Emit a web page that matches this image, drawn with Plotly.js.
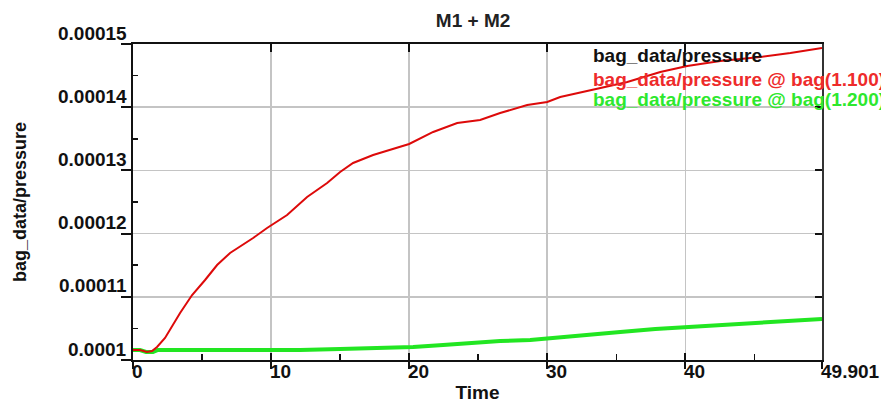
<!DOCTYPE html>
<html>
<head>
<meta charset="utf-8">
<script src="https://cdn.plot.ly/plotly-3.0.1.min.js"></script>
<style>
  html, body { margin: 0; padding: 0; background: #ffffff; }
  #chart { width: 881px; height: 403px; }
</style>
</head>
<body>
<div id="chart"></div>
<script>
// ---- data ----
const chartTitle = 'M1 + M2';
const xTitle = 'Time';
const yTitle = 'bag_data/pressure';
const seriesNames = ['bag_data/pressure', 'bag_data/pressure @ bag(1.100)', 'bag_data/pressure @ bag(1.200)'];

const xTickVals = [0, 10, 20, 30, 40, 49.901];
const xTickText = ['0', '10', '20', '30', '40', '49.901'];
const xMinorVals = [5, 15, 25, 35, 45];
const yTickVals = [0.0001, 0.00011, 0.00012, 0.00013, 0.00014, 0.00015];
const yTickText = ['0.0001', '0.00011', '0.00012', '0.00013', '0.00014', '0.00015'];
const yMinorVals = [0.000105, 0.000115, 0.000125, 0.000135, 0.000145];

const redX = [0, 0.51, 1.01, 1.38, 1.74, 2.32, 3.41, 4.28, 5.22, 6.09, 7.03, 8.70, 9.71, 11.16, 12.61, 14.06, 15.0, 15.94, 17.39, 18.62, 20.0, 21.74, 23.48, 25.14, 26.59, 28.55, 30.0, 30.94, 32.9, 34.35, 35.8, 38.19, 40.14, 42.54, 45.43, 47.61, 49.06, 49.901];
const redY = [1.0158e-4, 1.0158e-4, 1.0127e-4, 1.0142e-4, 1.0206e-4, 1.0348e-4, 1.0744e-4, 1.1028e-4, 1.1266e-4, 1.1503e-4, 1.1693e-4, 1.1930e-4, 1.2089e-4, 1.2294e-4, 1.2579e-4, 1.2801e-4, 1.2975e-4, 1.3117e-4, 1.3244e-4, 1.3323e-4, 1.3418e-4, 1.3608e-4, 1.3750e-4, 1.3797e-4, 1.3908e-4, 1.4035e-4, 1.4082e-4, 1.4161e-4, 1.4256e-4, 1.4335e-4, 1.4399e-4, 1.4557e-4, 1.4652e-4, 1.4731e-4, 1.4794e-4, 1.4858e-4, 1.4905e-4, 1.4937e-4];

const greenX = [0, 0.51, 0.94, 1.45, 1.81, 12.1, 15.0, 17.9, 20.29, 22.46, 24.28, 26.59, 28.77, 30.94, 33.12, 35.29, 37.83, 40.0, 42.54, 44.71, 46.88, 49.901];
const greenY = [1.0158e-4, 1.0158e-4, 1.0127e-4, 1.0127e-4, 1.0158e-4, 1.0158e-4, 1.0174e-4, 1.0190e-4, 1.0206e-4, 1.0237e-4, 1.0269e-4, 1.0301e-4, 1.0317e-4, 1.0364e-4, 1.0411e-4, 1.0443e-4, 1.0491e-4, 1.0522e-4, 1.0554e-4, 1.0586e-4, 1.0617e-4, 1.0649e-4];

// ---- styles ----
const FONT = 'Liberation Sans, Arial, Helvetica, sans-serif';
const FS = 19;
const seriesColors = ['#111111', '#ee2b2b', '#2ee82e'];
const gridColor = '#c4c4c4';

const traces = [
  { x: greenX, y: greenY, type: 'scatter', mode: 'lines', name: seriesNames[2],
    line: { color: '#22e622', width: 4 }, hoverinfo: 'skip' },
  { x: redX, y: redY, type: 'scatter', mode: 'lines', name: seriesNames[1],
    line: { color: '#dd0a0a', width: 2 }, hoverinfo: 'skip' },
  { x: [], y: [], xaxis: 'x2', yaxis: 'y', type: 'scatter', mode: 'lines', showlegend: false },
  { x: [], y: [], xaxis: 'x3', yaxis: 'y2', type: 'scatter', mode: 'lines', showlegend: false }
];

const xRange = [0, 49.901];
const yRange = [0.0001, 0.00015];

const annotations = [];
xTickVals.forEach((v, i) => annotations.push({
  x: v, xref: 'x', y: 0, yref: 'paper', text: xTickText[i], showarrow: false,
  xanchor: 'left', yanchor: 'top', xshift: -2, yshift: 0, borderpad: 0,
  font: { family: FONT, size: FS, color: '#111', weight: 'bold' }
}));
yTickVals.forEach((v, i) => annotations.push({
  x: 0, xref: 'paper', y: v, yref: 'y', text: yTickText[i], showarrow: false,
  xanchor: 'right', yanchor: 'middle', xshift: -5, yshift: 11, borderpad: 0,
  font: { family: FONT, size: FS, color: '#111', weight: 'bold' }
}));
const legendY = [0.965, 0.889, 0.823];
seriesNames.forEach((n, i) => annotations.push({
  x: 0.666, xref: 'paper', y: legendY[i], yref: 'paper', text: n, showarrow: false,
  xanchor: 'left', yanchor: 'middle', borderpad: 0,
  font: { family: FONT, size: FS, color: seriesColors[i], weight: 'bold' }
}));

const layout = {
  width: 881, height: 403,
  margin: { l: 133, r: 59, t: 44, b: 43 },
  paper_bgcolor: '#ffffff', plot_bgcolor: '#ffffff',
  showlegend: false,
  font: { family: FONT, size: FS, color: '#111' },
  title: { text: chartTitle, x: 0.537, xanchor: 'center', y: 0.95, yanchor: 'middle',
           font: { family: FONT, size: FS, color: '#222', weight: 'bold' } },
  xaxis: {
    range: xRange, tickmode: 'array', tickvals: xTickVals, showticklabels: false,
    ticks: 'outside', ticklen: 7, tickwidth: 2, tickcolor: '#111',
    showgrid: true, gridcolor: gridColor, gridwidth: 1.5, zeroline: false,
    showline: true, linecolor: '#111', linewidth: 2,
    minor: { tickmode: 'array', tickvals: xMinorVals, ticks: 'inside', ticklen: 6, tickwidth: 1.5, tickcolor: '#111', showgrid: false },
    title: { text: xTitle, standoff: 22, font: { family: FONT, size: FS, color: '#111', weight: 'bold' } }
  },
  xaxis2: {
    overlaying: 'x', anchor: 'y', side: 'bottom', range: xRange,
    tickmode: 'array', tickvals: xTickVals, showticklabels: false,
    ticks: 'inside', ticklen: 7, tickwidth: 2, tickcolor: '#111',
    showgrid: false, zeroline: false, showline: false
  },
  xaxis3: {
    overlaying: 'x', anchor: 'y2', side: 'top', range: xRange,
    tickmode: 'array', tickvals: xTickVals, showticklabels: false,
    ticks: 'inside', ticklen: 8, tickwidth: 2, tickcolor: '#111',
    showgrid: false, zeroline: false, showline: true, linecolor: '#111', linewidth: 2
  },
  yaxis: {
    range: yRange, tickmode: 'array', tickvals: yTickVals, showticklabels: false,
    ticks: 'outside', ticklen: 10, tickwidth: 2, tickcolor: '#111',
    showgrid: true, gridcolor: gridColor, gridwidth: 1.5, zeroline: false,
    showline: true, linecolor: '#111', linewidth: 2,
    minor: { tickmode: 'array', tickvals: yMinorVals, ticks: 'inside', ticklen: 5, tickwidth: 1.5, tickcolor: '#111', showgrid: false },
    title: { text: yTitle, standoff: 90, font: { family: FONT, size: 18, color: '#111', weight: 'bold' } }
  },
  yaxis2: {
    overlaying: 'y', anchor: 'x3', side: 'right', range: yRange,
    tickmode: 'array', tickvals: yTickVals, showticklabels: false,
    ticks: 'inside', ticklen: 7, tickwidth: 2, tickcolor: '#111',
    showgrid: false, zeroline: false, showline: true, linecolor: '#333', linewidth: 2
  },
  annotations: annotations
};

Plotly.newPlot('chart', traces, layout, { staticPlot: true, displayModeBar: false });
</script>
</body>
</html>
